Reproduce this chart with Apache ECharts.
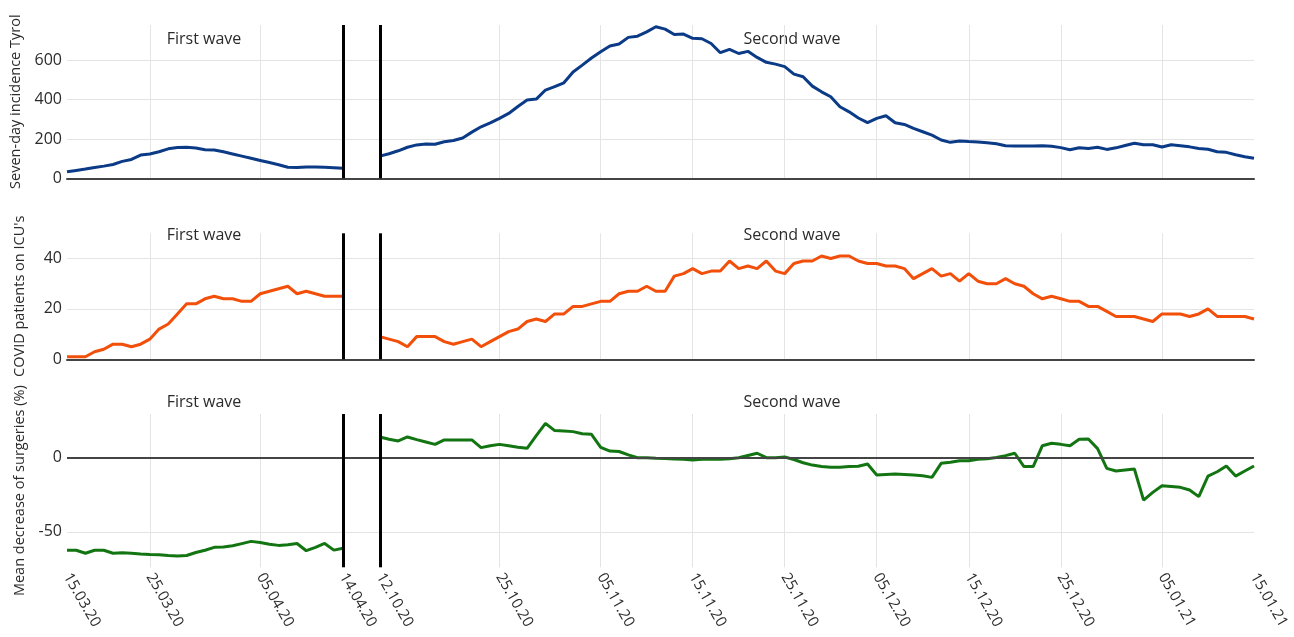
<!DOCTYPE html>
<html>
<head>
<meta charset="utf-8">
<script src="https://cdn.jsdelivr.net/npm/echarts@6/dist/echarts.min.js"></script>
<style>
  html, body { margin: 0; padding: 0; background: #fff; }
  #chart { width: 1294px; height: 637px; }
</style>
</head>
<body>
<div id="chart"></div>
<script>
// One x slot per day: first wave 15.03.20–14.04.20 in slots 0..30,
// a short break, then the second wave 12.10.20–15.01.21 in slots 34..129.
const SLOT_COUNT = 130;
const SECOND_START = 34;
const breakSlots = [30, 34];

const tickSlots  = [0, 9, 21, 30, 34, 47, 58, 68, 78, 88, 98, 108, 119, 129];
const tickLabels = ['15.03.20', '25.03.20', '05.04.20', '14.04.20', '12.10.20', '25.10.20',
                    '05.11.20', '15.11.20', '25.11.20', '05.12.20', '15.12.20', '25.12.20',
                    '05.01.21', '15.01.21'];

// Seven-day incidence, Tyrol
const incidenceFirst = [33, 40, 47, 55, 62, 70, 86, 96, 118, 124, 135, 150, 157, 158, 154, 145,
                        144, 135, 124, 113, 102, 91, 80, 69, 56, 55, 58, 58, 56, 54, 51];
const incidenceSecond = [113, 125, 140, 158, 170, 174, 173, 186, 192, 205,
                         235, 262, 282, 305, 330, 365, 398, 403, 449, 466,
                         486, 541, 576, 612, 644, 673, 683, 717, 723, 745,
                         771, 759, 732, 734, 712, 710, 686, 639, 656, 635,
                         646, 615, 590, 581, 568, 530, 517, 469, 440, 415,
                         364, 338, 307, 283, 305, 318, 283, 274, 254, 237,
                         220, 195, 183, 190, 187, 185, 181, 176, 166, 164,
                         164, 164, 165, 163, 156, 145, 155, 152, 158, 147,
                         155, 167, 178, 171, 171, 159, 171, 166, 160, 152,
                         148, 135, 132, 120, 110, 102];

// COVID patients on ICUs
const icuFirst = [1, 1, 1, 3, 4, 6, 6, 5, 6, 8, 12, 14, 18, 22, 22, 24, 25, 24, 24, 23, 23,
                  26, 27, 28, 29, 26, 27, 26, 25, 25, 25];
const icuSecond = [9, 8, 7, 5, 9, 9, 9, 7, 6, 7,
                   8, 5, 7, 9, 11, 12, 15, 16, 15, 18,
                   18, 21, 21, 22, 23, 23, 26, 27, 27, 29,
                   27, 27, 33, 34, 36, 34, 35, 35, 39, 36,
                   37, 36, 39, 35, 34, 38, 39, 39, 41, 40,
                   41, 41, 39, 38, 38, 37, 37, 36, 32, 34,
                   36, 33, 34, 31, 34, 31, 30, 30, 32, 30,
                   29, 26, 24, 25, 24, 23, 23, 21, 21, 19,
                   17, 17, 17, 16, 15, 18, 18, 18, 17, 18,
                   20, 17, 17, 17, 17, 16];

// Mean decrease of surgeries (%)
const surgeryFirst = [-62.5, -62.5, -64.5, -62.5, -62.5, -64.5, -64.2, -64.5, -65, -65.3,
                      -65.5, -66, -66.4, -66, -64, -62.5, -60.5, -60.3, -59.5, -58,
                      -56.5, -57.2, -58.5, -59.2, -58.8, -57.9, -62.8, -60.5, -57.9, -62.4,
                      -61.2];
const surgerySecond = [14, 12.5, 11.3, 14, 12.2, 10.6, 9, 12, 12, 12,
                       12, 6.8, 8.1, 9, 8, 7, 6.3, 14.9, 23.2, 18.3,
                       18, 17.6, 16.2, 15.8, 7, 4.5, 4.2, 1.9, 0, 0,
                       -0.3, -0.5, -0.8, -1, -1.5, -1, -1, -1, -0.7, 0,
                       1.5, 3, 0, 0, 0.5, -1.2, -3.4, -5, -6, -6.5,
                       -6.5, -6, -5.8, -4.3, -11.7, -11.3, -11, -11.3, -11.7, -12.2,
                       -13.3, -3.8, -3.1, -2, -2, -1.1, -0.7, 0.2, 1.4, 3,
                       -6, -6, 8.1, 9.7, 9, 8.1, 12.4, 12.6, 6.1, -7.2,
                       -9, -8.3, -7.6, -28.6, -23.4, -18.9, -19.4, -20, -21.8, -26.3,
                       -12.4, -9.5, -5.6, -12.4, -9, -5.6];

const panelNames = ['Seven-day incidence Tyrol', "COVID patients on ICU's", 'Mean decrease of surgeries (%)'];
const waveNames = ['First wave', 'Second wave'];

// ---- build the chart ----
const FONT = '"Open Sans", "Noto Sans", sans-serif';
const TEXT = '#2b2b2b';
const GRID = '#e4e4e4';

const slots = Array.from({ length: SLOT_COUNT }, (_, k) => String(k));
const labelAt = {};
tickSlots.forEach((s, k) => { labelAt[s] = tickLabels[k]; });
const gridTick = (i) => (i in labelAt) && i !== 0 && i !== SLOT_COUNT - 1 && !breakSlots.includes(i);

function placeOnAxis(first, second) {
  const out = new Array(SLOT_COUNT).fill(null);
  first.forEach((v, k) => { out[k] = v; });
  second.forEach((v, k) => { out[SECOND_START + k] = v; });
  return out;
}

const grids = [
  { left: 67, width: 1187, top: 25, height: 153.3 },
  { left: 67, width: 1187, top: 233.3, height: 126 },
  { left: 67, width: 1187, top: 414, height: 153.3 }
];

function xAxisFor(g) {
  const last = g === 2;
  return {
    type: 'category', gridIndex: g, data: slots, boundaryGap: false,
    axisLine: { show: !last, onZero: false, lineStyle: { color: '#444', width: 2 } },
    axisTick: { show: false },
    axisLabel: {
      show: last, interval: (i) => i in labelAt,
      formatter: (v) => labelAt[Number(v)] || '',
      rotate: -60, margin: 7, color: TEXT, fontSize: 15, fontFamily: FONT
    },
    splitLine: { show: true, interval: gridTick, lineStyle: { color: GRID, width: 1 } }
  };
}

function yAxisFor(g, extra) {
  return Object.assign({
    type: 'value', gridIndex: g,
    name: panelNames[g], nameLocation: 'middle', nameGap: 40,
    nameTextStyle: { color: TEXT, fontSize: 14.5, fontFamily: FONT },
    axisLine: { show: false }, axisTick: { show: false },
    axisLabel: { showMinLabel: g !== 2, showMaxLabel: false, color: TEXT, fontSize: 16, fontFamily: FONT, margin: 5 },
    splitLine: { show: true, showMinLine: g !== 2, showMaxLine: false, lineStyle: { color: GRID, width: 1 } }
  }, extra);
}

const breakLines = breakSlots.map((s) => ({ xAxis: String(s), lineStyle: { color: '#000', width: 3, type: 'solid' } }));

function seriesFor(g, first, second, color, zeroLine) {
  const lines = zeroLine ? [{ yAxis: 0, lineStyle: { color: '#444', width: 2, type: 'solid' } }] : [];
  return {
    type: 'line', xAxisIndex: g, yAxisIndex: g,
    data: placeOnAxis(first, second),
    connectNulls: false, showSymbol: false, symbol: 'none',
    lineStyle: { color, width: 3 }, itemStyle: { color },
    markLine: {
      silent: true, symbol: 'none', label: { show: false },
      data: lines.concat(breakLines)
    }
  };
}

const waveLabelY = [39, 235, 402];
const waveLabelX = [204, 792];
const graphic = [];
waveLabelY.forEach((y) => {
  waveNames.forEach((name, k) => {
    graphic.push({
      type: 'text', x: waveLabelX[k], y,
      style: {
        text: name, align: 'center', verticalAlign: 'middle',
        textAlign: 'center', textVerticalAlign: 'middle',
        fill: TEXT, font: '16px ' + FONT
      }
    });
  });
});

const chart = echarts.init(document.getElementById('chart'), null, { renderer: 'canvas' });
chart.setOption({
  animation: false,
  backgroundColor: '#fff',
  grid: grids,
  xAxis: [xAxisFor(0), xAxisFor(1), xAxisFor(2)],
  yAxis: [
    yAxisFor(0, { min: 0, max: 780, interval: 200 }),
    yAxisFor(1, { min: 0, max: 50, interval: 20 }),
    yAxisFor(2, { min: -74, max: 29.5, splitNumber: 2 })
  ],
  series: [
    seriesFor(0, incidenceFirst, incidenceSecond, '#0b3a86', false),
    seriesFor(1, icuFirst, icuSecond, '#f24f0a', false),
    seriesFor(2, surgeryFirst, surgerySecond, '#127512', true)
  ],
  graphic
});
</script>
</body>
</html>
